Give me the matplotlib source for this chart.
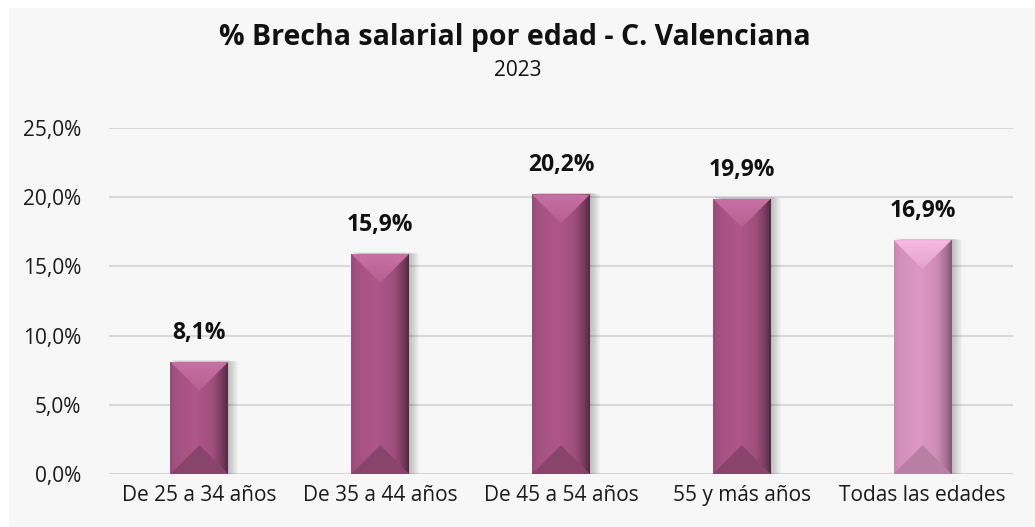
import numpy as np
import matplotlib
matplotlib.use("Agg")
import matplotlib.pyplot as plt
from matplotlib.patches import Rectangle, Polygon
from matplotlib.colors import LinearSegmentedColormap, to_rgb, rgb_to_hsv, hsv_to_rgb

# Data
categories = ["De 25 a 34 años", "De 35 a 44 años", "De 45 a 54 años",
              "55 y más años", "Todas las edades"]
values = [8.1, 15.9, 20.2, 19.9, 16.9]
value_labels = ["8,1%", "15,9%", "20,2%", "19,9%", "16,9%"]
y_ticks = [0, 5, 10, 15, 20, 25]
y_tick_labels = ["0,0%", "5,0%", "10,0%", "15,0%", "20,0%", "25,0%"]
title = "% Brecha salarial por edad - C. Valenciana"
subtitle = "2023"

plt.rcParams['font.family'] = ['Open Sans', 'DejaVu Sans']

W, H, DPI = 1035, 527, 100
fig = plt.figure(figsize=(W / DPI, H / DPI), dpi=DPI, facecolor="white")

# light grey panel behind everything
fig.patches.append(Rectangle((9 / W, 0), 1 - 9 / W, 1 - 8 / H,
                             transform=fig.transFigure, facecolor="#f7f7f7",
                             edgecolor="none", zorder=-10))

ax = fig.add_axes([109 / W, 53 / H, 904 / W, 346 / H])
ax.set_facecolor("none")
ax.set_xlim(-0.5, 4.5)
ax.set_ylim(0, 25)

for s in ax.spines.values():
    s.set_visible(False)
ax.set_yticks(y_ticks)
ax.set_yticklabels(y_tick_labels, fontsize=15, color="#1a1a1a")
ax.set_xticks(range(len(categories)))
ax.set_xticklabels(categories, fontsize=15, color="#1a1a1a")
ax.tick_params(length=0, pad=20)
ax.tick_params(axis="x", pad=8)
ax.yaxis.grid(True, color="#d9d9d9", linewidth=1.5)
ax.set_axisbelow(True)

bar_width = 0.32
base_color = "#a55282"
total_color = "#d491bc"
colors = [base_color] * (len(values) - 1) + [total_color]

bars = ax.bar(range(len(values)), values, width=bar_width, color=colors,
              edgecolor="none", zorder=3)

# pixel/data conversions for the bevel geometry
px_x = 904 / 5.0          # pixels per x unit
px_y = 346 / 25.0         # pixels per y unit


def tone(c, dv, ds=0.0):
    """Shift brightness (value) and saturation of a colour in HSV space."""
    hsv = rgb_to_hsv(np.array(to_rgb(c)))
    hsv[1] = np.clip(hsv[1] + ds, 0, 1)
    hsv[2] = np.clip(hsv[2] + dv, 0, 1)
    return tuple(hsv_to_rgb(hsv))


for bar, col in zip(bars, colors):
    x0 = bar.get_x()
    w = bar.get_width()
    h = bar.get_height()
    x1 = x0 + w
    xc = (x0 + x1) / 2

    # soft drop shadow to the right
    for i in range(10):
        off = (1 + i) / px_x
        ax.add_patch(Rectangle((x0 + off, -0.02), w, h + (2 - i * 0.15) / px_y,
                               facecolor="black", alpha=0.022,
                               edgecolor="none", zorder=2))

    # horizontal gradient across the body
    cmap = LinearSegmentedColormap.from_list(
        "body", [(0.0, tone(col, -0.05)), (0.12, tone(col, 0.0)),
                 (0.45, tone(col, 0.04)), (0.75, tone(col, -0.03)),
                 (0.9, tone(col, -0.18)), (1.0, tone(col, -0.33))])
    grad = np.linspace(0, 1, 256).reshape(1, -1)
    im = ax.imshow(grad, extent=(x0, x1, 0, h), aspect="auto", cmap=cmap,
                   zorder=4, interpolation="bicubic")
    im.set_clip_path(bar)

    # 45-degree bevels at top and bottom
    d = (w / 2) * px_x / px_y
    d = min(d, h / 2)
    top = Polygon([(x0, h), (x1, h), (xc, h - d)], closed=True,
                  edgecolor="none", facecolor="none", zorder=5)
    ax.add_patch(top)
    vgrad = np.linspace(0, 1, 64).reshape(-1, 1)
    tcmap = LinearSegmentedColormap.from_list(
        "topbevel", [tone(col, 0.06, -0.04), tone(col, 0.14, -0.06)])
    tim = ax.imshow(vgrad, extent=(x0, x1, h - d, h), origin="lower",
                    aspect="auto", cmap=tcmap, zorder=5,
                    interpolation="bicubic")
    tim.set_clip_path(top)
    # right-hand part of the top bevel sits in shade
    ax.add_patch(Polygon([(xc, h - d), (x1, h), (x1 - 4 / px_x, h - 4 / px_y)],
                         closed=True, facecolor=tone(col, -0.05),
                         edgecolor="none", zorder=5, alpha=0.6))
    bot = Polygon([(x0, 0), (x1, 0), (xc, d)], closed=True,
                  facecolor=tone(col, -0.11), edgecolor="none", zorder=5)
    ax.add_patch(bot)

for bar, lbl in zip(bars, value_labels):
    ax.annotate(lbl, (bar.get_x() + bar.get_width() / 2, bar.get_height()),
                xytext=(0, 17), textcoords="offset pixels", ha="center",
                va="bottom", fontsize=16.5, fontweight="bold", color="#111111")

fig.text(0.497, 1 - 38 / H, title, ha="center", va="center", fontsize=20.5,
         fontweight="bold", color="#111111")
fig.text(0.5, 1 - 70 / H, subtitle, ha="center", va="center", fontsize=15,
         color="#111111")

fig.savefig("out.png", dpi=DPI, facecolor="white")
